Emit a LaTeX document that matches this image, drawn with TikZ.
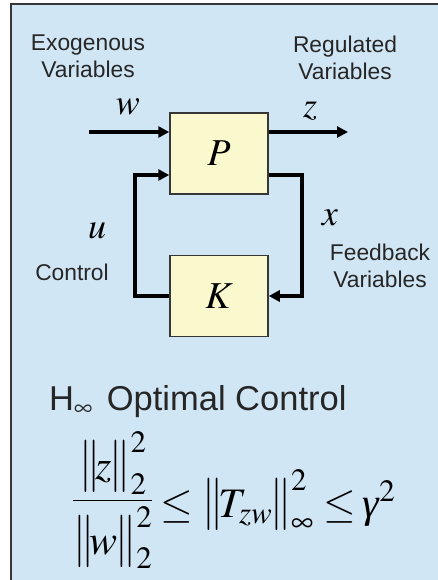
\documentclass[tikz,border=0pt]{standalone}
\usepackage{mathptmx}
\usepackage[no-math]{fontspec}
\setmainfont{Liberation Sans}
\newfontfamily\tnr{Liberation Serif}
\usetikzlibrary{arrows.meta}
\definecolor{bgblue}{RGB}{209,230,245}
\definecolor{boxyellow}{RGB}{250,248,205}
\definecolor{edgegray}{RGB}{55,55,55}
\newcommand{\tallbar}{\mathord{\scalebox{1}[1.25]{$\|$}}}
\newcommand{\nrmof}[1]{\tallbar\mkern-2mu #1\mkern-1mu\tallbar}
\begin{document}
\begin{tikzpicture}[x=1pt,y=-1pt,
  blk/.style={draw=edgegray,line width=1.5pt,fill=boxyellow,minimum width=98pt,minimum height=81pt,inner sep=0pt,font=\fontsize{38}{42}\selectfont},
  sig/.style={line width=4pt,-{Triangle[length=11pt,width=11pt]}},
  lbl/.style={font=\fontsize{22.8}{27}\selectfont,align=center,text=black!85},
  var/.style={font=\fontsize{36}{40}\selectfont,inner sep=0pt}]
\useasboundingbox (0,0) rectangle (438,580);
\fill[white] (0,0) rectangle (438,580);
\fill[bgblue] (11,4) rectangle (438,580);
\draw[line width=2pt,edgegray] (11,580) -- (11,4) -- (438,4);

\node[blk] (P) at (219,153.5) {$P$};
\node[blk] (K) at (219,296) {$K$};

\coordinate (wstart) at (89,132);
\coordinate (zend) at (348,132);
\coordinate (ul) at (135,175);
\coordinate (xr) at (302,175);

\draw[sig] (wstart) -- (wstart -| P.west);
\draw[sig] (zend -| P.east) -- (zend);
\draw[sig] (K.west) -- (K.west -| ul) -- (ul) -- (ul -| P.west);
\draw[sig] (P.east |- xr) -- (xr) -- (xr |- K.east) -- (K.east);

\node[lbl] (exo) at (88,56) {Exogenous\\Variables};
\node[lbl] (reg) at (345,58) {Regulated\\Variables};
\node[var,anchor=base] (wl) at (128,115) {$w$};
\node[var,anchor=base] (zl) at (310,118) {$z$};
\node[var,anchor=base] (uu) at (97,238) {$u$};
\node[lbl] (ctl) at (72,272) {Control};
\node[var,anchor=base] (xl) at (330,225) {$x$};
\node[lbl] (fb) at (380,266) {Feedback\\Variables};

\node[anchor=base west,inner sep=0pt,font=\fontsize{34.5}{40}\selectfont,text=black!85] (title) at (49,410) {H$_\infty$\hspace{14pt}Optimal Control};
\node[anchor=base west,inner sep=0pt,font=\fontsize{42}{48}\selectfont] (eq) at (72,517) {\raisebox{6pt}{$\displaystyle \frac{\nrmof{z}^2_2}{\nrmof{w}^2_2}$}$\mkern3mu\le\mkern0mu\nrmof{T_{zw}}^2_\infty\le\mkern-1mu\mbox{\tnr\itshape γ}^2$};
\end{tikzpicture}
\end{document}
